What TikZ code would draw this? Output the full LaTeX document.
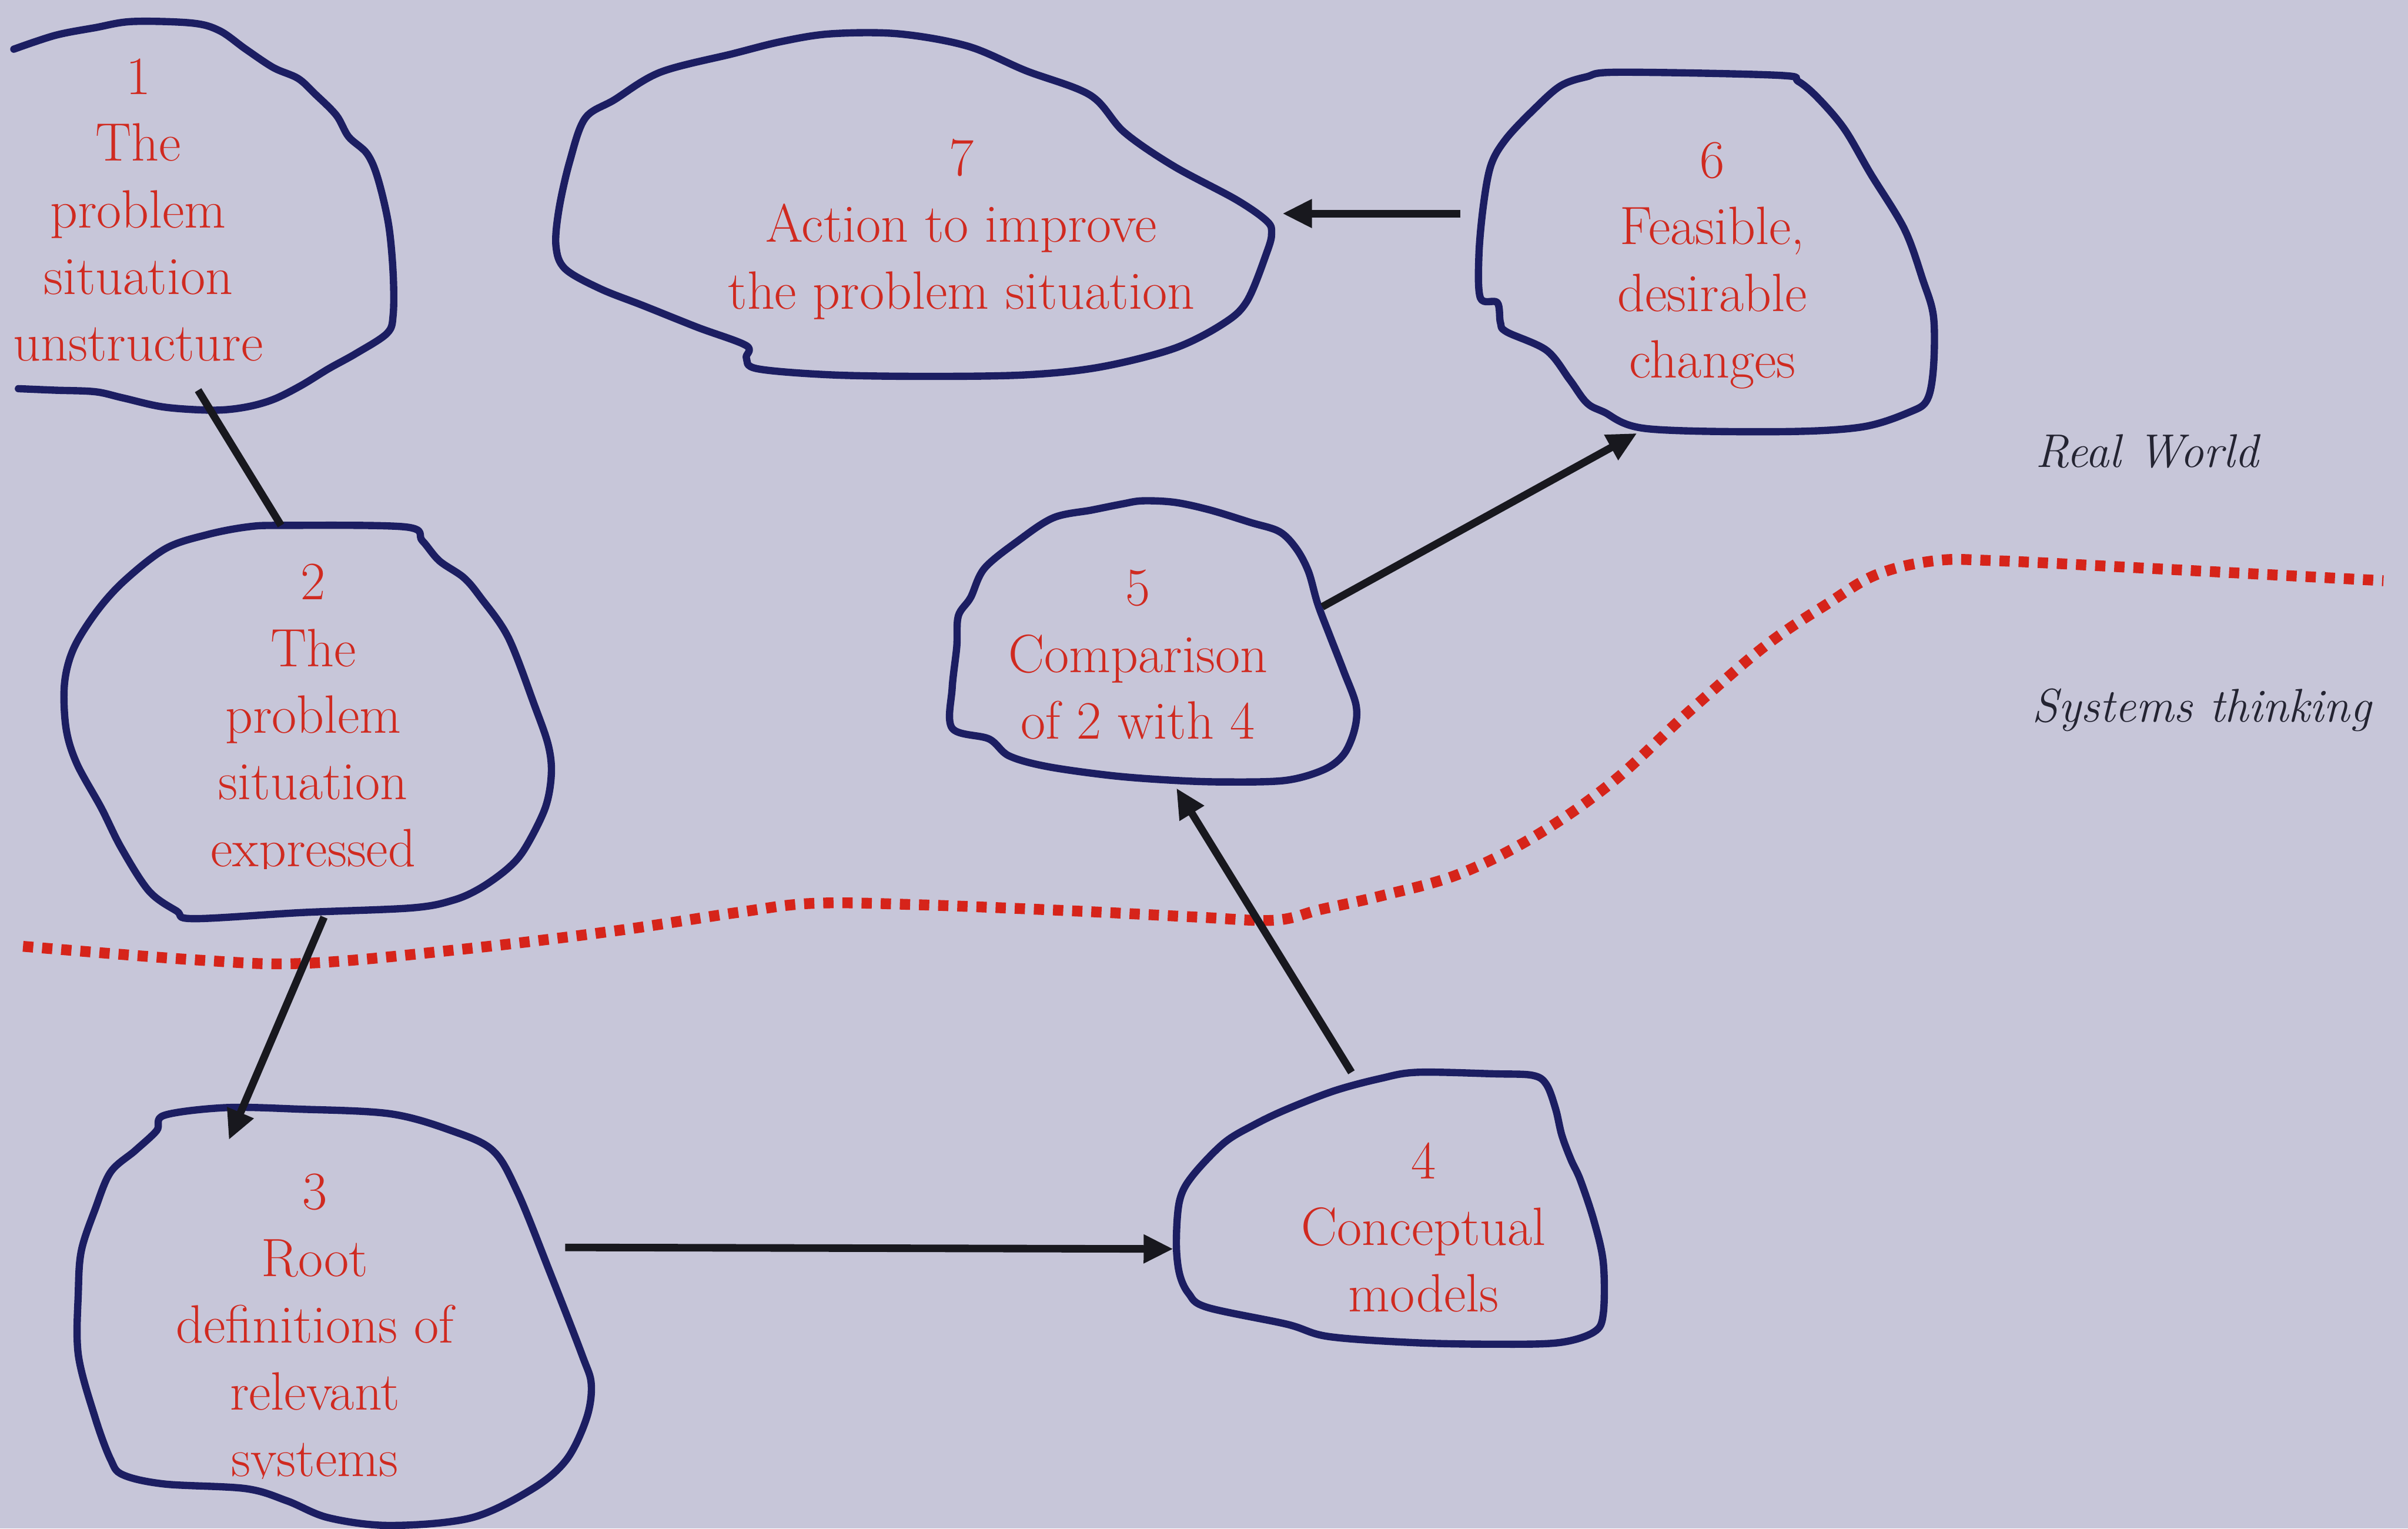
\documentclass[tikz,border=0pt]{standalone}
\usepackage{fontspec}
\usetikzlibrary{arrows.meta}
\definecolor{pagebg}{RGB}{199,198,217}
\definecolor{edgeblue}{RGB}{28,30,98}
\definecolor{labelred}{RGB}{208,42,32}
\definecolor{linkblack}{RGB}{24,24,30}
\definecolor{dotred}{RGB}{214,36,26}
\definecolor{sidetext}{RGB}{36,36,50}
\begin{document}
\begin{tikzpicture}[x=0.02cm,y=-0.02cm,
  blob/.style={draw=edgeblue, line width=2.7pt, line join=round, line cap=round},
  lbl/.style={text=labelred, align=center, font=\fontsize{20}{24.7}\selectfont, inner sep=0pt, anchor=base},
  link/.style={draw=linkblack, line width=2.8pt},
  arr/.style={link, -{Triangle[length=11pt,width=10pt]}},
  boundary/.style={draw=dotred, line width=4pt, dash pattern=on 3.8pt off 3.3pt},
  side/.style={text=sidetext, font=\itshape\fontsize{17.5}{20}\selectfont, anchor=base west, inner sep=0pt}]

% page
\fill[pagebg] (0,0) rectangle (1568,995);
\useasboundingbox (0,0) rectangle (1568,995);

% boundary between the real world and systems thinking
\draw[boundary] plot[smooth, tension=0.6] coordinates {
  (15,616) (130,625) (200,627) (300,618) (400,606) (480,594) (530,588) (600,589)
  (700,593) (780,597) (830,599) (860,592) (900,583) (950,569) (1000,544) (1050,509)
  (1100,463) (1150,420) (1190,393) (1222,374) (1260,365) (1300,365) (1400,370) (1552,378)};

% stage outlines
\draw[blob] plot[smooth, tension=0.55] coordinates {
  (9,32) (36,23) (62,18) (86,14) (125,15) (143,20) (160,32) (178,44) (194,51) (205,61)
  (219,75) (227,89) (239,100) (246,116) (253,146) (256,178) (256,205) (252,217) (232,230)
  (214,240) (196,251) (178,260) (160,265) (139,267) (107,265) (80,259) (62,255) (36,254) (12,253)};

\draw[blob] plot[smooth cycle, tension=0.55] coordinates {
  (184,342) (264,343) (275,352) (286,365) (302,376) (313,389) (331,415) (348,459) (357,485)
  (359,504) (355,526) (342,552) (331,565) (313,578) (295,586) (268,591) (197,594) (126,598)
  (115,593) (97,580) (79,552) (66,526) (50,497) (43,474) (42,445) (48,422) (63,398) (81,378)
  (108,357) (135,348) (161,343)};

\draw[blob] plot[smooth cycle, tension=0.55] coordinates {
  (107,726) (147,721) (195,722) (254,725) (294,736) (321,749) (337,776) (358,828) (379,882)
  (385,901) (382,923) (369,950) (347,969) (307,988) (254,993) (214,988) (187,977) (160,969)
  (107,966) (80,960) (72,950) (62,923) (51,882) (51,841) (53,814) (62,787) (72,763) (88,749) (102,736)};

\draw[blob] plot[smooth cycle, tension=0.55] coordinates {
  (923,698) (973,699) (998,700) (1007,706) (1013,722) (1017,739) (1023,755) (1029,768)
  (1038,795) (1044,822) (1044,855) (1038,867) (1015,874) (973,875) (921,874) (865,870)
  (838,862) (786,851) (774,842) (768,829) (766,809) (768,782) (776,766) (797,744) (817,732)
  (838,722) (869,710) (899,702)};

\draw[blob] plot[smooth cycle, tension=0.55] coordinates {
  (744,326) (765,327) (788,332) (814,340) (833,346) (844,357) (852,372) (858,393) (866,414)
  (875,437) (883,459) (882,475) (875,491) (862,501) (837,508) (798,509) (765,508) (725,505)
  (682,499) (657,492) (644,481) (620,474) (620,448) (623,421) (624,401) (632,389) (641,370)
  (663,352) (686,337) (711,332) (731,328)};

\draw[blob] plot[smooth cycle, tension=0.55] coordinates {
  (1054,47) (1158,49) (1171,53) (1184,64) (1201,84) (1218,113) (1240,149) (1252,182)
  (1259,206) (1259,239) (1255,260) (1244,268) (1212,278) (1158,281) (1072,279) (1044,268)
  (1033,262) (1022,247) (1007,228) (981,216) (977,210) (975,197) (964,194) (963,166)
  (966,133) (971,107) (981,90) (999,71) (1016,56) (1033,50)};

\draw[blob] plot[smooth cycle, tension=0.55] coordinates {
  (541,22) (585,22) (630,30) (668,46) (710,62) (732,86) (764,108) (805,130) (825,144)
  (828,152) (825,164) (812,196) (796,211) (764,227) (716,239) (668,244) (604,245) (541,244)
  (493,240) (486,233) (486,225) (454,213) (419,199) (391,188) (368,175) (362,160) (364,136)
  (371,105) (381,77) (400,65) (430,47) (477,35) (509,27)};

% stage labels (anchored on the baseline of their last line)
\begin{scope}
  \clip (0,0) rectangle (300,236.5);
  \node[lbl] (b1) at (90,235) {1\\The\\problem\\situation\\unstructure};
\end{scope}
\begin{scope}
  \clip (0,330) rectangle (400,565.5);
  \node[lbl] (b2) at (204,564) {2\\The\\problem\\situation\\expressed};
\end{scope}
\begin{scope}
  \clip (0,700) rectangle (400,962.5);
  \node[lbl] (b3) at (205,961) {3\\Root\\definitions of\\relevant\\systems};
\end{scope}
\node[lbl] (b4) at (927,854) {4\\Conceptual\\models};
\node[lbl] (b5) at (741,481) {5\\Comparison\\of 2 with 4};
\node[lbl] (b6) at (1115,246) {6\\Feasible,\\desirable\\changes};
\node[lbl] (b7) at (626,201) {7\\Action to improve\\the problem situation};

% side captions
\node[side] (rw) at (1325,304) {Real World};
\node[side] (st) at (1323,470) {Systems thinking};

% connector end points on the outlines
\coordinate (c1out) at (129,254);
\coordinate (c2in)  at (183,342);
\coordinate (c2out) at (211,597);
\coordinate (c3in)  at (149,742);
\coordinate (c3out) at (368,812);
\coordinate (c4in)  at (764,813);
\coordinate (c4out) at (880,698);
\coordinate (c5in)  at (766,513);
\coordinate (c5out) at (861,395);
\coordinate (c6in)  at (1066,282);
\coordinate (c6out) at (951,139);
\coordinate (c7in)  at (835,139);

% connectors
\draw[link] (c1out) -- (c2in);
\draw[arr] (c2out) -- (c3in);
\draw[arr] (c3out) -- (c4in);
\draw[arr] (c4out) -- (c5in);
\draw[arr] (c5out) -- (c6in);
\draw[arr] (c6out) -- (c7in);
\end{tikzpicture}
\end{document}
